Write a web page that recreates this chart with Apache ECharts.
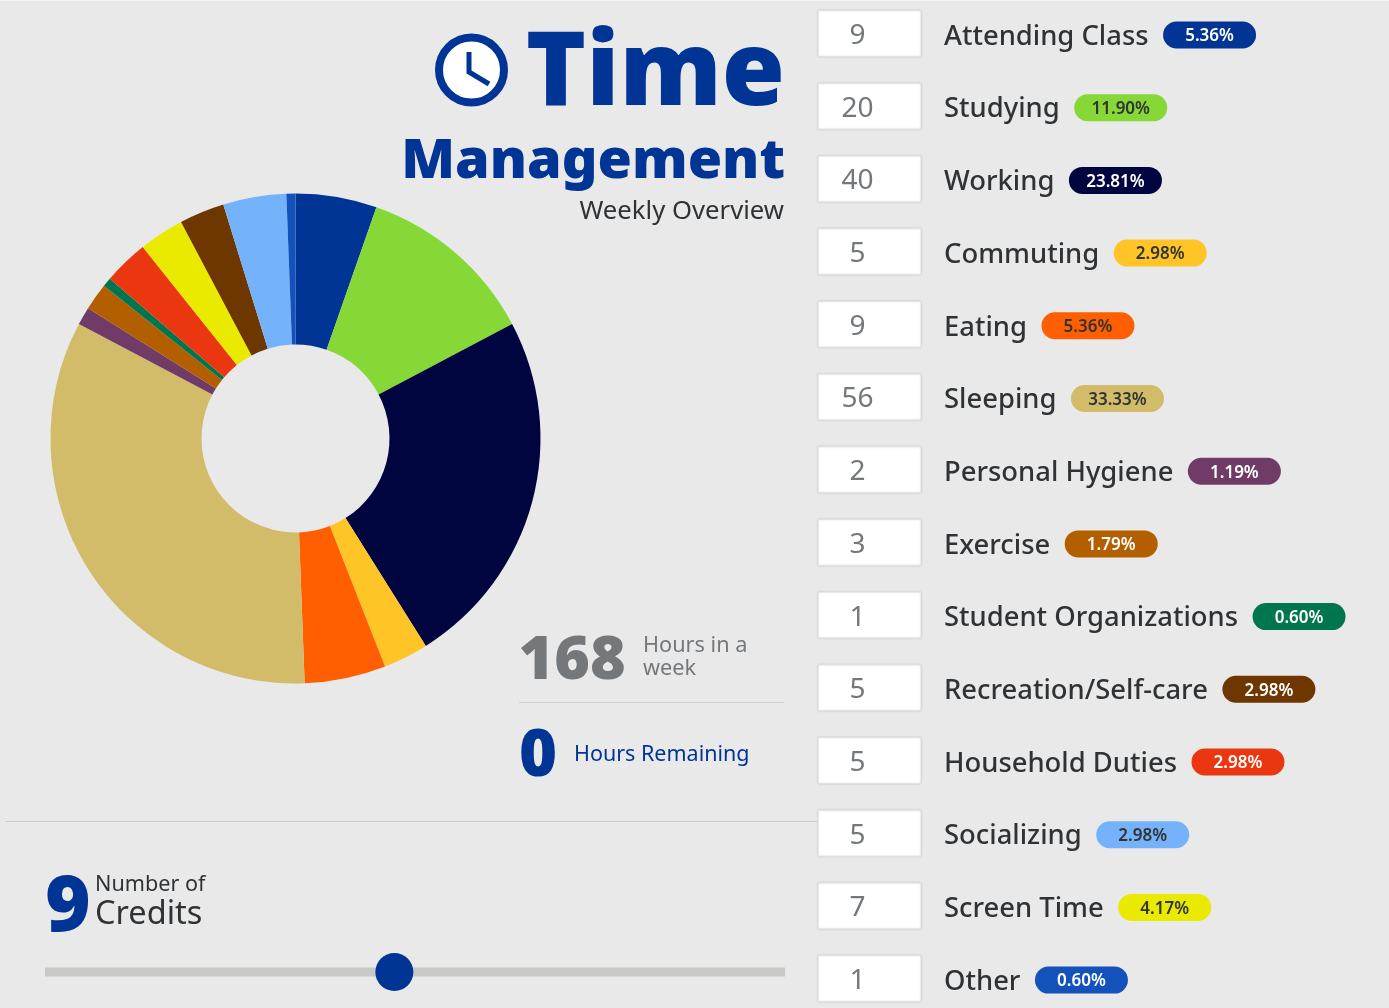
<!DOCTYPE html>
<html>
<head>
<meta charset="utf-8">
<title>Time Management</title>
<script src="https://cdn.jsdelivr.net/npm/echarts@6/dist/echarts.min.js"></script>
<style>
  html, body { margin: 0; padding: 0; background: #e9e9e9; }
  #chart { width: 1389px; height: 1008px; }
</style>
</head>
<body>
<div id="chart"></div>
<script>
// Weekly hours per activity, in list order
const activities = ['Attending Class', 'Studying', 'Working', 'Commuting', 'Eating', 'Sleeping',
  'Personal Hygiene', 'Exercise', 'Student Organizations', 'Recreation/Self-care',
  'Household Duties', 'Socializing', 'Screen Time', 'Other'];
const hours = [9, 20, 40, 5, 9, 56, 2, 3, 1, 5, 5, 5, 7, 1];
const shares = ['5.36%', '11.90%', '23.81%', '2.98%', '5.36%', '33.33%', '1.19%', '1.79%',
  '0.60%', '2.98%', '2.98%', '2.98%', '4.17%', '0.60%'];

// Badge colours for the list
const badgeColors = ['#003595', '#85d836', '#00053f', '#ffc425', '#ff5f00', '#d3bc69', '#703c67',
  '#b35f00', '#00764f', '#6f3700', '#ea370f', '#74b2fb', '#eaea00', '#1452bb'];
const badgeText = ['#fff', '#333', '#fff', '#333', '#333', '#333', '#fff',
  '#fff', '#fff', '#fff', '#fff', '#333', '#333', '#fff'];

// Slice colours for the donut
const sliceColors = ['#003595', '#85d836', '#00053f', '#ffc425', '#ff5f00', '#d3bc69', '#703c67',
  '#b35f00', '#00764f', '#ea370f', '#eaea00', '#6f3700', '#74b2fb', '#1452bb'];

const totalHours = 168;
const remaining = 0;
const credits = 9;
const creditRange = [1, 18];

const BLUE = '#003595';
const DARK = '#2f3336';
const GREY = '#74787b';
const FAMILY = '"Noto Sans", "Open Sans", sans-serif';
const LABEL_SIZE = 27.4;
const LABEL_WEIGHT = 500;

const measure = document.createElement('canvas').getContext('2d');
function textWidth(str, font) {
  measure.font = font;
  return measure.measureText(str).width;
}

function text(x, y, str, size, fill, extra) {
  const o = extra || {};
  return {
    type: 'text', x: x, y: y, z: 10,
    style: {
      text: str, fill: fill, fontFamily: FAMILY,
      fontSize: size, fontWeight: o.weight || 400,
      align: o.align || 'left', verticalAlign: 'middle'
    }
  };
}

const graphics = [];

// Faint highlight along the top edge of the panel
graphics.push({ type: 'rect', z: 1, shape: { x: 0, y: 0, width: 1389, height: 1 },
  style: { fill: '#f3f3f3' } });

// Title block with clock icon
graphics.push({ type: 'circle', z: 10, shape: { cx: 471.5, cy: 70, r: 32.5 },
  style: { fill: '#fff', stroke: BLUE, lineWidth: 8 } });
graphics.push({ type: 'polyline', z: 11,
  shape: { points: [[469, 52], [469, 72], [489, 84]] },
  style: { fill: null, stroke: BLUE, lineWidth: 5 } });
graphics.push(text(785, 76, 'Time', 102.3, BLUE, { weight: 900, align: 'right' }));
graphics.push(text(785, 162.5, 'Management', 55.7, BLUE, { weight: 900, align: 'right' }));
graphics.push(text(784, 212, 'Weekly Overview', 25.7, DARK, { align: 'right' }));

// Weekly totals
graphics.push(text(518.5, 662, String(totalHours), 61, GREY, { weight: 900 }));
graphics.push(text(643, 646, 'Hours in a', 21.7, GREY));
graphics.push(text(643, 669, 'week', 21.7, GREY));
graphics.push({ type: 'line', z: 5, shape: { x1: 519, y1: 702.5, x2: 784, y2: 702.5 },
  style: { stroke: '#cfcfcf', lineWidth: 1 } });
graphics.push(text(519, 757, String(remaining), 65, BLUE, { weight: 900 }));
graphics.push(text(574, 755, 'Hours Remaining', 21.5, BLUE));
graphics.push({ type: 'line', z: 5, shape: { x1: 5, y1: 821.5, x2: 817, y2: 821.5 },
  style: { stroke: '#cccccc', lineWidth: 1 } });

// Credits readout and slider
graphics.push(text(45, 909, String(credits), 78, BLUE, { weight: 900 }));
graphics.push(text(95, 885, 'Number of', 21.6, DARK));
graphics.push(text(95, 915, 'Credits', 32.5, DARK));
const trackLeft = 45, trackRight = 785, thumbR = 19;
graphics.push({ type: 'rect', z: 5,
  shape: { x: trackLeft, y: 967.5, width: trackRight - trackLeft, height: 9 },
  style: { fill: '#c8c8c6' } });
graphics.push({ type: 'circle', z: 6,
  shape: {
    cx: trackLeft + thumbR + (trackRight - trackLeft - 2 * thumbR) * (credits - creditRange[0]) / (creditRange[1] - creditRange[0]),
    cy: 972, r: thumbR
  },
  style: { fill: BLUE } });

// Activity list: input box, label, share badge
activities.forEach(function (name, i) {
  const cy = 34 + i * 72.7;
  graphics.push({ type: 'rect', z: 5,
    shape: { x: 818, y: cy - 23.5, width: 103, height: 46, r: 1 },
    style: { fill: '#fff', stroke: '#e2e2e2', lineWidth: 1, shadowBlur: 2, shadowColor: 'rgba(0,0,0,0.14)' } });
  graphics.push(text(857.5, cy + 2, String(hours[i]), 28, GREY, { align: 'center' }));
  graphics.push(text(944, cy + 3, name, LABEL_SIZE, DARK, { weight: LABEL_WEIGHT }));
  const labelEnd = 944 + textWidth(name, LABEL_WEIGHT + ' ' + LABEL_SIZE + 'px ' + FAMILY);
  const bx = labelEnd + 14.5;
  graphics.push({ type: 'rect', z: 5,
    shape: { x: bx, y: cy - 12.5, width: 93, height: 27, r: 13.5 },
    style: { fill: badgeColors[i] } });
  graphics.push(text(bx + 46.5, cy + 2.5, shares[i], 17, badgeText[i], { weight: 600, align: 'center' }));
});

const chart = echarts.init(document.getElementById('chart'));
chart.setOption({
  backgroundColor: '#e9e9e9',
  animation: false,
  series: [{
    type: 'pie',
    center: [295.5, 438.5],
    radius: [94, 245],
    startAngle: 90,
    clockwise: true,
    label: { show: false },
    labelLine: { show: false },
    silent: true,
    data: activities.map(function (name, i) {
      return { name: name, value: hours[i], itemStyle: { color: sliceColors[i] } };
    })
  }],
  graphic: graphics
});
</script>
</body>
</html>
